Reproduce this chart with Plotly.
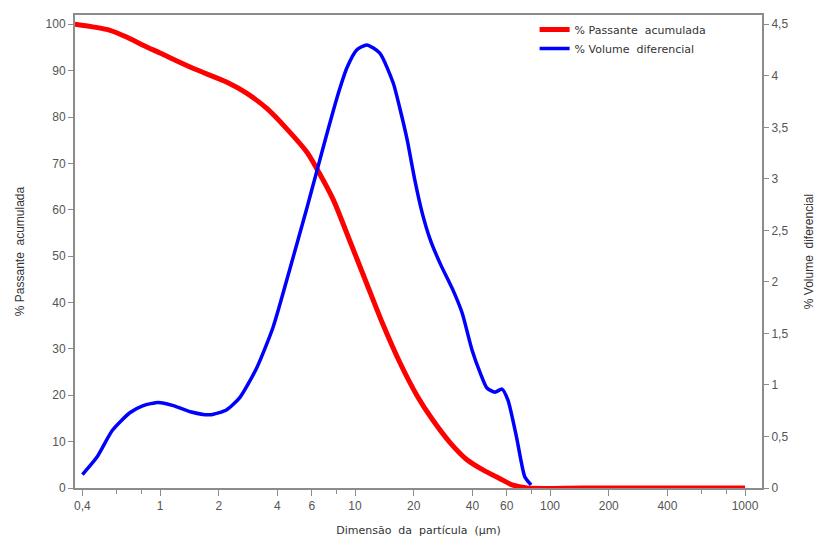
import plotly.graph_objects as go

# % Passante acumulada (left axis)
red_x = [0.366, 0.554, 0.677, 0.818, 1.0, 1.476, 2.205, 2.79, 3.54, 4.48, 5.67, 6.38, 7.71, 9.42, 11.5, 13.9, 17.0, 20.8, 25.1, 30.7, 37.5, 45.3, 55.4, 64.6, 76.2, 150, 400, 1000]
red_y = [100, 98.7, 97.2, 95.5, 93.8, 90.5, 87.5, 85.1, 81.8, 77.4, 72.4, 68.8, 62.3, 53.2, 44.0, 35.3, 27.0, 19.9, 14.6, 9.8, 6.1, 3.9, 2.0, 0.6, 0, 0, 0, 0]

# % Volume diferencial (right axis)
blue_x = [0.40, 0.475, 0.57, 0.70, 0.82, 0.98, 1.17, 1.43, 1.80, 2.2, 2.57, 3.14, 3.80, 4.64, 5.67, 6.38, 7.18, 8.09, 9.10, 10.2, 11.5, 13.4, 15.7, 17.0, 18.5, 20.3, 22.1, 24.3, 27.3, 31.8, 35.4, 39.8, 43.8, 47.5, 52.2, 56.7, 60.9, 67.4, 74.2, 80]
blue_y = [0.13, 0.30, 0.56, 0.73, 0.80, 0.83, 0.80, 0.74, 0.71, 0.76, 0.88, 1.17, 1.56, 2.13, 2.72, 3.08, 3.44, 3.79, 4.08, 4.25, 4.30, 4.22, 3.93, 3.68, 3.38, 2.98, 2.67, 2.41, 2.18, 1.92, 1.70, 1.34, 1.12, 0.97, 0.93, 0.96, 0.85, 0.49, 0.11, 0.03]

x_tickvals = [0.4, 1, 2, 4, 6, 10, 20, 40, 60, 100, 200, 400, 1000]
x_ticktext = ["0,4", "1", "2", "4", "6", "10", "20", "40", "60", "100", "200", "400", "1000"]
x_minor = [0.6, 0.8, 8, 80, 600, 800]
y1_tickvals = [0, 10, 20, 30, 40, 50, 60, 70, 80, 90, 100]
y2_tickvals = [0, 0.5, 1, 1.5, 2, 2.5, 3, 3.5, 4, 4.5]
y2_ticktext = ["0", "0,5", "1", "1,5", "2", "2,5", "3", "3,5", "4", "4,5"]

fig = go.Figure()
fig.add_trace(go.Scatter(x=red_x, y=red_y, mode="lines", name="% Passante  acumulada",
                         line=dict(color="#ff0000", width=5, shape="spline", smoothing=0.8), yaxis="y"))
fig.add_trace(go.Scatter(x=blue_x, y=blue_y, mode="lines", name="% Volume  diferencial",
                         line=dict(color="#0000ff", width=3.5, shape="spline", smoothing=0.6), yaxis="y2"))

axcol = "#8c8c8c"
tickfont = dict(family="Liberation Sans, Arial", size=12, color="#555555")

# page body has an 8px margin, so the figure is sized to fit inside it
fig.update_layout(
    width=808, height=532,
    margin=dict(l=67, r=54, t=7, b=52, autoexpand=False),
    paper_bgcolor="white", plot_bgcolor="white",
    separators=",.",
    showlegend=True,
    legend=dict(x=0.669, y=1.0, xanchor="left", yanchor="top", bgcolor="rgba(0,0,0,0)",
                font=dict(family="DejaVu Sans, Verdana", size=11, color="#333333"),
                tracegroupgap=0, itemwidth=30),
    xaxis=dict(type="log", range=[-0.436, 3.087], tickvals=x_tickvals, ticktext=x_ticktext,
               ticks="outside", ticklen=6, tickcolor=axcol, tickwidth=1,
               minor=dict(tickvals=x_minor, ticks="outside", ticklen=4, tickcolor=axcol, tickwidth=1),
               showline=True, linecolor=axcol, linewidth=2, mirror=True, showgrid=False, zeroline=False,
               tickfont=tickfont, automargin=False,
               title=dict(text="Dimensão  da  partícula  (µm)", standoff=14,
                          font=dict(family="DejaVu Sans, Verdana", size=11, color="#333333"))),
    yaxis=dict(range=[0, 102], tickvals=y1_tickvals, ticks="outside", ticklen=5, tickcolor=axcol,
               showline=True, linecolor=axcol, linewidth=2, showgrid=False, zeroline=False,
               tickfont=tickfont, automargin=False,
               title=dict(text="% Passante  acumulada", standoff=18,
                          font=dict(family="Liberation Sans, Arial", size=12, color="#333333"))),
    yaxis2=dict(range=[0, 4.59], tickvals=y2_tickvals, ticktext=y2_ticktext, overlaying="y", side="right",
                ticks="outside", ticklen=5, tickcolor=axcol,
                showline=True, linecolor=axcol, linewidth=2, showgrid=False, zeroline=False,
                tickfont=tickfont, automargin=False,
                title=dict(text="% Volume  diferencial", standoff=24,
                           font=dict(family="Liberation Sans, Arial", size=12, color="#333333"))),
)

fig.write_html("out.html")
